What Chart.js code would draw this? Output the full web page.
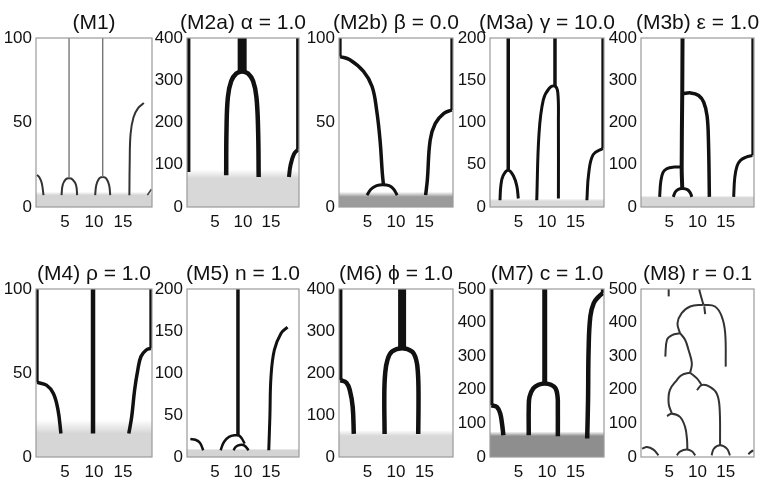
<!DOCTYPE html>
<html>
<head>
<meta charset="utf-8">
<script src="https://cdn.jsdelivr.net/npm/chart.js@4.4.1/dist/chart.umd.min.js"></script>
<style>
  html, body { margin: 0; padding: 0; background: #fff; }
  body { width: 764px; height: 483px; position: relative; overflow: hidden; }
  canvas { position: absolute; }
</style>
</head>
<body>
<script>
/* ---- tick labels ---- */
const X_TICKS = [5, 10, 15];
const Y_TICKS_100 = [0, 50, 100];
const Y_TICKS_200 = [0, 50, 100, 150, 200];
const Y_TICKS_400 = [0, 100, 200, 300, 400];
const Y_TICKS_500 = [0, 100, 200, 300, 400, 500];

const TITLES = ["(M1)", "(M2a) α = 1.0", "(M2b) β = 0.0", "(M3a) γ = 10.0", "(M3b) ε = 1.0",
                "(M4) ρ = 1.0", "(M5) n = 1.0", "(M6) ϕ = 1.0", "(M7) c = 1.0", "(M8) r = 0.1"];

/* ---- curves, [x, y] in data units ---- */
// M1
const M1_STEM_A  = [[5.7, 17], [5.7, 100]];
const M1_STEM_B  = [[11.5, 17.8], [11.5, 100]];
const M1_ARCH_L  = [[0.15, 19], [0.6, 17.5], [1.0, 14], [1.3, 7]];
const M1_ARCH_A  = [[4.4, 7], [4.6, 13], [5.1, 16.3], [5.7, 17], [6.3, 16.3], [6.9, 13], [7.1, 7]];
const M1_ARCH_B  = [[10.2, 7], [10.4, 13], [10.9, 17], [11.5, 17.8], [12.1, 17], [12.6, 13], [12.8, 7]];
const M1_RIGHT   = [[16.1, 7], [16.15, 25], [16.3, 43], [16.8, 53], [17.6, 58.5], [18.6, 61.5]];
const M1_TAIL    = [[19.2, 7], [19.6, 9], [19.9, 10.5]];
// M2a
const M2A_LEFT   = [[0.25, 83], [0.25, 400]];
const M2A_TRUNK  = [[9.85, 318], [9.85, 400]];
const M2A_ARCH   = [[7.0, 75], [7.05, 180], [7.3, 260], [7.9, 298], [8.8, 316], [9.85, 321],
                    [10.9, 316], [11.8, 298], [12.4, 260], [12.7, 180], [12.8, 71]];
const M2A_RIGHT  = [[18.2, 71], [18.5, 100], [19.1, 125], [19.8, 136]];
const M2A_EDGE   = [[19.8, 136], [19.8, 400]];
// M2b
const M2B_EDGE_L = [[0.2, 89], [0.2, 100]];
const M2B_CURVE  = [[0.2, 89], [1.9, 87.1], [4.3, 80.2], [5.8, 71.3], [6.6, 57.4], [7.2, 39.6], [7.6, 20], [7.8, 13]];
const M2B_SMALL  = [[4.9, 7], [5.6, 10.5], [6.6, 12.6], [7.7, 13.2], [8.8, 12.6], [9.6, 10.5], [10.2, 7]];
const M2B_RIGHT  = [[15.2, 7], [15.5, 16], [16.0, 39.6], [16.9, 49.5], [18.4, 55.4], [19.8, 57.4]];
const M2B_EDGE_R = [[19.8, 57.4], [19.8, 100]];
// M3a
const M3A_STEM1  = [[3.2, 43.6], [3.2, 200]];
const M3A_ARCH1  = [[1.75, 8], [1.9, 25], [2.3, 37], [3.2, 43.6], [4.1, 37], [4.7, 25], [4.97, 10]];
const M3A_STEM2  = [[11.4, 143], [11.4, 200]];
const M3A_ARCH2  = [[8.2, 8], [8.6, 87], [9.35, 126.7], [10.4, 140.5], [11.4, 143], [11.9, 135], [12.0, 100], [12.0, 10]];
const M3A_RIGHT  = [[17.0, 8], [17.3, 38.7], [18.1, 62], [19.8, 69.3]];
const M3A_EDGE   = [[19.8, 69.3], [19.8, 200]];
// M3b
const M3B_TRUNK  = [[7.3, 43.5], [7.2, 94.7], [7.3, 268], [7.35, 400]];
const M3B_BIG    = [[7.35, 268], [8.8, 270], [10.2, 264], [11.1, 248], [11.7, 215], [11.95, 150], [12.1, 24]];
const M3B_LEFT   = [[3.3, 24], [3.5, 60], [3.9, 82], [4.6, 91], [5.9, 94.5], [7.2, 94.7]];
const M3B_SMALL  = [[5.7, 24], [6.1, 36], [6.6, 42], [7.4, 43.5], [8.2, 41], [8.7, 34], [9.0, 24]];
const M3B_RIGHT  = [[16.4, 24], [16.6, 70], [17.0, 97], [17.6, 110.5], [18.6, 118], [19.7, 122]];
const M3B_EDGE   = [[19.75, 122], [19.75, 400]];
// M4
const M4_EDGE_L  = [[0.2, 44.4], [0.2, 100]];
const M4_LEFT    = [[0.2, 44.4], [1.8, 42.8], [3.0, 37.8], [3.8, 27.9], [4.3, 14]];
const M4_TRUNK   = [[9.83, 14], [9.83, 100]];
const M4_RIGHT   = [[16.0, 14], [16.5, 23.9], [17.0, 39.8], [17.55, 51.8], [18.1, 59.8], [19.0, 63.7], [19.8, 64.7]];
const M4_EDGE_R  = [[19.8, 64.7], [19.8, 100]];
// M5
const M5_TRUNK   = [[9.1, 25.9], [9.1, 200]];
const M5_LEFT    = [[0.6, 21.5], [1.5, 20.5], [2.3, 17], [2.9, 8]];
const M5_ARCH    = [[6.0, 8], [6.6, 17.9], [7.5, 23.9], [8.6, 25.9], [9.3, 25.5], [9.8, 21.9], [10.3, 15.9]];
const M5_SMALL   = [[8.3, 8], [8.7, 12], [9.4, 14.3], [10.2, 13.9], [11.0, 8]];
const M5_RIGHT   = [[14.6, 8], [14.8, 47.8], [15.0, 95.6], [15.6, 127.5], [16.8, 147.4], [17.95, 154.6]];
// M6
const M6_EDGE_L  = [[0.25, 183], [0.25, 400]];
const M6_LEFT    = [[0.25, 183], [1.3, 177], [1.9, 159], [2.4, 119.5], [2.6, 55]];
const M6_TRUNK   = [[11.07, 255], [11.07, 400]];
const M6_ARCH    = [[8.0, 55], [7.95, 150], [8.1, 199], [8.5, 231], [9.3, 251], [11.07, 259],
                    [12.8, 251], [13.55, 231], [13.85, 199], [13.95, 150], [13.9, 55]];
// M7
const M7_EDGE_L  = [[0.25, 154], [0.25, 500]];
const M7_LEFT    = [[0.25, 154], [1.2, 149], [1.8, 129], [2.1, 100], [2.35, 65]];
const M7_TRUNK   = [[9.6, 215], [9.6, 500]];
const M7_ARCH    = [[6.8, 65], [6.8, 150], [6.95, 180], [7.6, 204], [8.5, 215], [9.6, 219],
                    [10.7, 215], [11.5, 204], [11.85, 180], [11.9, 150], [11.9, 62]];
const M7_RIGHT   = [[17.05, 55], [17.2, 169], [17.3, 319], [17.6, 418], [18.2, 458], [19.1, 478], [19.8, 488]];
const M7_EDGE_R  = [[19.8, 488], [19.8, 500]];
// M8
const M8_B1      = [[0.2, 25], [1.06, 30], [2.2, 22], [3.1, 5]];
const M8_B2      = [[6.35, 5], [6.9, 16], [8.1, 22], [9.0, 17], [9.6, 5]];
const M8_B3      = [[12.5, 5], [12.9, 25], [14.0, 35], [15.2, 25], [15.75, 5]];
const M8_B4      = [[19.0, 8], [19.5, 16], [19.9, 20]];
const M8_A       = [[4.6, 122], [5.46, 129], [6.9, 119.5], [7.8, 89.6], [8.15, 50], [8.2, 22]];
const M8_AB      = [[5.46, 129], [4.9, 159], [5.1, 199], [6.35, 229], [7.2, 244], [8.7, 251]];
const M8_BC      = [[8.7, 251], [9.9, 234], [10.75, 214]];
const M8_C       = [[9.9, 199], [10.75, 214], [12.2, 209], [13.4, 189], [13.9, 149], [14.0, 35]];
const M8_BD      = [[8.7, 251], [9.0, 279], [8.4, 319], [7.8, 349], [6.9, 368.5]];
const M8_D       = [[4.3, 299], [4.6, 349], [5.5, 363], [6.9, 368.5]];
const M8_DE      = [[6.9, 368.5], [6.46, 398], [7.2, 428], [8.7, 448], [11.05, 453]];
const M8_E       = [[11.05, 453], [13.1, 448], [14.3, 418], [14.9, 368.5], [15.0, 269]];
const M8_TOP     = [[11.05, 453], [10.46, 488], [10.3, 500]];
const M8_STUB1   = [[11.2, 448], [11.35, 425]];
const M8_STUB2   = [[4.9, 478], [4.9, 500]];

/* ---- layout (px) ---- */
const COL_LEFT = [36, 187, 339, 490, 641];
const COL_W    = [116, 112, 114, 114, 113];
const ROW_TOP  = [38, 289];
const ROW_H    = [169, 168];
const PAD_T = 38, PAD_R = 26, AX_W = 44, AX_H = 30;

const FONT = "'Liberation Sans', Arial, Helvetica, sans-serif";
const INK = "#111";

// one polyline + its stroke
const L = (data, w, color) => ({ data, w, color: color || "#111" });

const PANELS = [
  { yMax: 100, yTicks: Y_TICKS_100, band: [7, 9, "212,212,212"],
    lines: [L(M1_STEM_A, 1.4, "#777"), L(M1_STEM_B, 1.4, "#777"), L(M1_ARCH_L, 2, "#333"),
            L(M1_ARCH_A, 2, "#333"), L(M1_ARCH_B, 2, "#333"), L(M1_RIGHT, 2, "#333"), L(M1_TAIL, 1.6, "#444")] },
  { yMax: 400, yTicks: Y_TICKS_400, band: [68, 88, "216,216,216"],
    lines: [L(M2A_LEFT, 4), L(M2A_TRUNK, 9), L(M2A_ARCH, 4.5), L(M2A_RIGHT, 4), L(M2A_EDGE, 3.5)] },
  { yMax: 100, yTicks: Y_TICKS_100, band: [6, 9, "155,155,155"],
    lines: [L(M2B_EDGE_L, 3), L(M2B_CURVE, 3.5), L(M2B_SMALL, 3), L(M2B_RIGHT, 3.5), L(M2B_EDGE_R, 3)] },
  { yMax: 200, yTicks: Y_TICKS_200, band: [7, 10, "218,218,218"],
    lines: [L(M3A_STEM1, 3.5), L(M3A_ARCH1, 3), L(M3A_STEM2, 3.5), L(M3A_ARCH2, 3), L(M3A_RIGHT, 3), L(M3A_EDGE, 3)] },
  { yMax: 400, yTicks: Y_TICKS_400, band: [22, 27, "214,214,214"],
    lines: [L(M3B_TRUNK, 4), L(M3B_BIG, 3.5), L(M3B_LEFT, 3), L(M3B_SMALL, 3), L(M3B_RIGHT, 3), L(M3B_EDGE, 2.5)] },
  { yMax: 100, yTicks: Y_TICKS_100, band: [14, 22, "214,214,214"],
    lines: [L(M4_EDGE_L, 3), L(M4_LEFT, 3.5), L(M4_TRUNK, 4.5), L(M4_RIGHT, 3.5), L(M4_EDGE_R, 3)] },
  { yMax: 200, yTicks: Y_TICKS_200, band: [8, 10, "212,212,212"],
    lines: [L(M5_TRUNK, 3.5), L(M5_LEFT, 2.5), L(M5_ARCH, 2.5), L(M5_SMALL, 2.5), L(M5_RIGHT, 3)] },
  { yMax: 400, yTicks: Y_TICKS_400, band: [50, 64, "216,216,216"],
    lines: [L(M6_EDGE_L, 4), L(M6_LEFT, 4.5), L(M6_TRUNK, 8), L(M6_ARCH, 4.5)] },
  { yMax: 500, yTicks: Y_TICKS_500, band: [62, 76, "142,142,142"],
    lines: [L(M7_EDGE_L, 4), L(M7_LEFT, 4.5), L(M7_TRUNK, 5), L(M7_ARCH, 4.5), L(M7_RIGHT, 4.5), L(M7_EDGE_R, 4)] },
  { yMax: 500, yTicks: Y_TICKS_500, band: null,
    lines: [M8_B1, M8_B2, M8_B3, M8_B4, M8_A, M8_AB, M8_BC, M8_C, M8_BD, M8_D, M8_DE, M8_E, M8_TOP, M8_STUB1, M8_STUB2]
             .map(d => L(d, 2, "#333")) }
];

// frame + title drawn around the plot area
const frameTitle = {
  id: "frameTitle",
  afterDatasetsDraw(chart, args, opts) {
    const a = chart.chartArea, ctx = chart.ctx;
    ctx.save();
    ctx.strokeStyle = "#9a9a9a";
    ctx.lineWidth = 1.2;
    ctx.strokeRect(a.left, a.top, a.right - a.left, a.bottom - a.top);
    ctx.fillStyle = INK;
    ctx.font = "21px " + FONT;
    ctx.textAlign = "center";
    ctx.textBaseline = "alphabetic";
    ctx.fillText(opts.text, (a.left + a.right) / 2, a.top - 9);
    ctx.restore();
  }
};

function bandDataset(band) {
  const [solid, top, rgb] = band;
  return {
    data: [[0, top], [20, top]],
    showLine: true, fill: "origin", borderWidth: 0, pointRadius: 0, order: 10,
    backgroundColor: (c) => {
      const ch = c.chart;
      if (!ch.chartArea) return "rgb(" + rgb + ")";
      const y = ch.scales.y;
      const g = ch.ctx.createLinearGradient(0, y.getPixelForValue(0), 0, y.getPixelForValue(top));
      g.addColorStop(0, "rgba(" + rgb + ",1)");
      g.addColorStop(solid / top, "rgba(" + rgb + ",1)");
      g.addColorStop(1, "rgba(" + rgb + ",0)");
      return g;
    }
  };
}

PANELS.forEach((p, i) => {
  const row = Math.floor(i / 5), col = i % 5;
  const cv = document.createElement("canvas");
  const w = COL_W[col] + AX_W + PAD_R, h = ROW_H[row] + PAD_T + AX_H;
  cv.width = w; cv.height = h;
  cv.style.left = (COL_LEFT[col] - AX_W) + "px";
  cv.style.top = (ROW_TOP[row] - PAD_T) + "px";
  cv.style.width = w + "px"; cv.style.height = h + "px";
  document.body.appendChild(cv);

  const datasets = p.lines.map(l => ({
    data: l.data, showLine: true, pointRadius: 0,
    borderColor: l.color, borderWidth: l.w, tension: l.data.length > 2 ? 0.4 : 0,
    borderJoinStyle: "round", borderCapStyle: "butt", fill: false, order: 0
  }));
  if (p.band) datasets.push(bandDataset(p.band));

  new Chart(cv, {
    type: "scatter",
    data: { datasets },
    options: {
      responsive: false, animation: false, events: [],
      layout: { padding: { top: PAD_T, right: PAD_R, left: 0, bottom: 0 } },
      plugins: { legend: { display: false }, tooltip: { enabled: false }, frameTitle: { text: TITLES[i] } },
      scales: {
        x: {
          type: "linear", min: 0, max: 20,
          grid: { display: false, drawTicks: false }, border: { display: false },
          ticks: { color: INK, font: { family: FONT, size: 17 }, padding: 5, autoSkip: false, maxRotation: 0 },
          afterBuildTicks: s => { s.ticks = X_TICKS.map(v => ({ value: v })); },
          afterFit: s => { s.height = AX_H; }
        },
        y: {
          type: "linear", min: 0, max: p.yMax,
          grid: { display: false, drawTicks: false }, border: { display: false },
          ticks: { color: INK, font: { family: FONT, size: 17 }, padding: 4, autoSkip: false },
          afterBuildTicks: s => { s.ticks = p.yTicks.map(v => ({ value: v })); },
          afterFit: s => { s.width = AX_W; }
        }
      }
    },
    plugins: [frameTitle]
  });
});
</script>
</body>
</html>
